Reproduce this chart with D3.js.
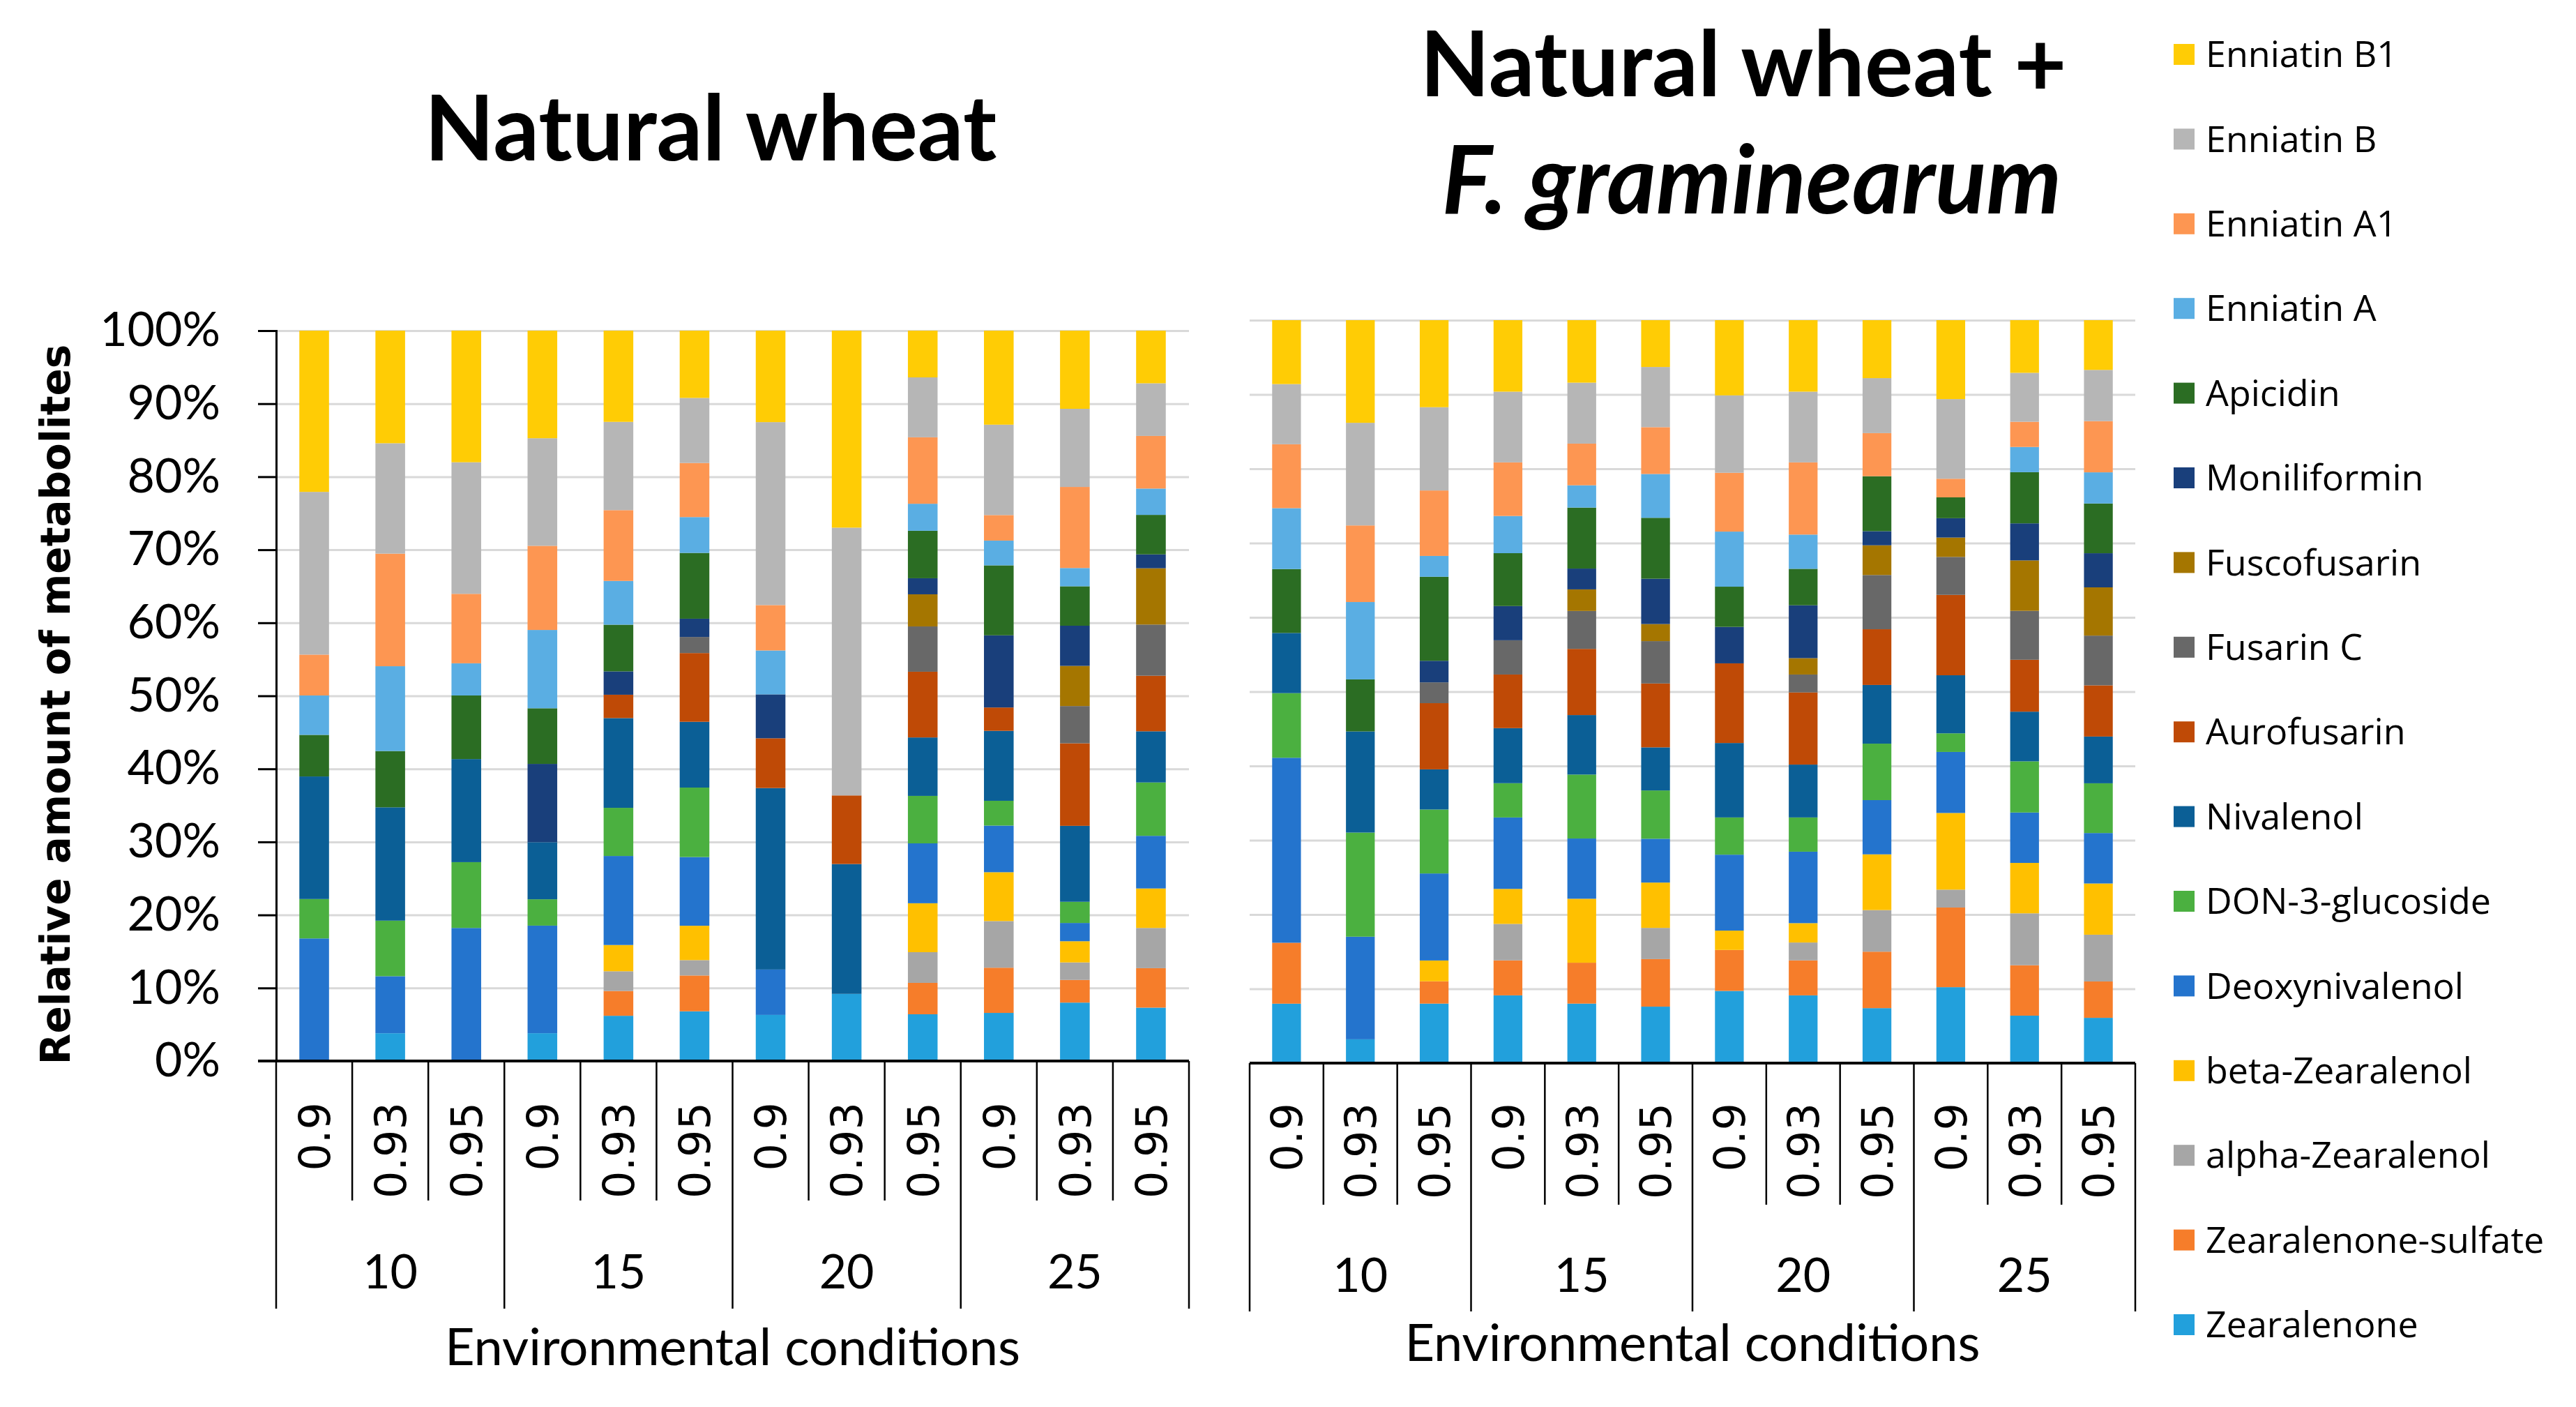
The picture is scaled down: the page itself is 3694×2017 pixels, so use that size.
<!DOCTYPE html>
<html>
<head>
<meta charset="utf-8">
<script src="https://cdn.jsdelivr.net/npm/d3@7"></script>
<style>
  body { margin: 0; background: #fff; }
  svg { display: block; }
</style>
</head>
<body>
<script>
// categories
var temperatures = ["10", "15", "20", "25"];
var waterActivity = ["0.9", "0.93", "0.95"];

// stacked bottom -> top
var metabolites = ["Zearalenone", "Zearalenone-sulfate", "alpha-Zearalenol", "beta-Zearalenol",
  "Deoxynivalenol", "DON-3-glucoside", "Nivalenol", "Aurofusarin", "Fusarin C", "Fuscofusarin",
  "Moniliformin", "Apicidin", "Enniatin A", "Enniatin A1", "Enniatin B", "Enniatin B1"];

var metaboliteColors = ["#22a0dc", "#f67d2a", "#a6a6a6", "#ffc000",
  "#2474cd", "#4bb040", "#0b5f96", "#bf4a06", "#686868", "#a57600",
  "#193f7b", "#2b6d23", "#5aaee3", "#fd9652", "#b6b6b6", "#ffcc05"];

// Natural wheat: one row per metabolite, one column per condition (10/0.9 ... 25/0.95)
var naturalWheat = [
  [0, 3.8, 0, 3.8, 6.2, 6.8, 6.3, 9.2, 6.4, 6.6, 8.0, 7.3],        // Zearalenone
  [0, 0, 0, 0, 3.4, 4.9, 0, 0, 4.3, 6.2, 3.1, 5.4],                // Zearalenone-sulfate
  [0, 0, 0, 0, 2.7, 2.1, 0, 0, 4.2, 6.4, 2.4, 5.5],                // alpha-Zearalenol
  [0, 0, 0, 0, 3.6, 4.7, 0, 0, 6.7, 6.7, 2.9, 5.4],                // beta-Zearalenol
  [16.8, 7.8, 18.2, 14.7, 12.2, 9.4, 6.2, 0, 8.2, 6.4, 2.5, 7.2],  // Deoxynivalenol
  [5.4, 7.6, 9.0, 3.6, 6.6, 9.5, 0, 0, 6.5, 3.4, 2.9, 7.3],        // DON-3-glucoside
  [16.8, 15.5, 14.1, 7.8, 12.3, 9.0, 24.8, 17.8, 8.0, 9.6, 10.4, 7.0], // Nivalenol
  [0, 0, 0, 0, 3.2, 9.4, 6.8, 9.4, 9.0, 3.2, 11.3, 7.6],           // Aurofusarin
  [0, 0, 0, 0, 0, 2.2, 0, 0, 6.2, 0, 5.1, 7.0],                    // Fusarin C
  [0, 0, 0, 0, 0, 0, 0, 0, 4.4, 0, 5.5, 7.7],                      // Fuscofusarin
  [0, 0, 0, 10.7, 3.2, 2.5, 6.0, 0, 2.2, 9.9, 5.5, 1.9],           // Moniliformin
  [5.7, 7.7, 8.7, 7.6, 6.4, 9.0, 0, 0, 6.5, 9.6, 5.4, 5.4],        // Apicidin
  [5.4, 11.6, 4.4, 10.7, 6.0, 4.9, 6.0, 0, 3.7, 3.4, 2.5, 3.6],    // Enniatin A
  [5.6, 15.4, 9.5, 11.5, 9.7, 7.4, 6.2, 0, 9.1, 3.5, 11.1, 7.2],   // Enniatin A1
  [22.3, 15.1, 18.0, 14.7, 12.1, 8.9, 25.0, 36.7, 8.2, 12.4, 10.7, 7.2], // Enniatin B
  [22.1, 15.4, 18.0, 14.7, 12.5, 9.2, 12.5, 27.0, 6.4, 12.9, 10.7, 7.2]  // Enniatin B1
];

// Natural wheat + F. graminearum
var inoculatedWheat = [
  [8.0, 3.2, 8.0, 9.1, 8.0, 7.6, 9.7, 9.1, 7.4, 10.2, 6.4, 6.1],   // Zearalenone
  [8.2, 0, 3.0, 4.7, 5.5, 6.4, 5.5, 4.7, 7.6, 10.7, 6.8, 4.9],     // Zearalenone-sulfate
  [0, 0, 0, 4.9, 0, 4.2, 0, 2.4, 5.6, 2.4, 7.0, 6.3],              // alpha-Zearalenol
  [0, 0, 2.8, 4.7, 8.6, 6.1, 2.6, 2.6, 7.5, 10.3, 6.8, 6.9],       // beta-Zearalenol
  [24.9, 13.8, 11.7, 9.6, 8.1, 5.9, 10.2, 9.6, 7.3, 8.2, 6.8, 6.8], // Deoxynivalenol
  [8.7, 14.0, 8.6, 4.6, 8.6, 6.5, 5.0, 4.6, 7.6, 2.5, 6.9, 6.7],   // DON-3-glucoside
  [8.1, 13.6, 5.4, 7.4, 8.0, 5.8, 10.0, 7.1, 7.9, 7.8, 6.7, 6.3],  // Nivalenol
  [0, 0, 8.9, 7.2, 8.9, 8.6, 10.7, 9.7, 7.5, 10.8, 7.0, 6.9],      // Aurofusarin
  [0, 0, 2.8, 4.6, 5.1, 5.7, 0, 2.4, 7.3, 5.1, 6.6, 6.7],          // Fusarin C
  [0, 0, 0, 0, 2.9, 2.3, 0, 2.2, 4.0, 2.6, 6.8, 6.5],              // Fuscofusarin
  [0, 0, 2.9, 4.6, 2.8, 6.1, 4.9, 7.1, 1.9, 2.6, 5.0, 4.6],        // Moniliformin
  [8.6, 7.0, 11.3, 7.1, 8.2, 8.2, 5.4, 4.9, 7.4, 2.8, 6.9, 6.7],   // Apicidin
  [8.2, 10.4, 2.8, 5.0, 3.0, 5.9, 7.4, 4.6, 0, 0, 3.4, 4.2],       // Enniatin A
  [8.6, 10.3, 8.8, 7.2, 5.6, 6.3, 7.9, 9.7, 5.8, 2.5, 3.4, 6.9],   // Enniatin A1
  [8.1, 13.8, 11.2, 9.5, 8.2, 8.1, 10.4, 9.5, 7.4, 10.7, 6.6, 6.9], // Enniatin B
  [8.6, 13.8, 11.7, 9.6, 8.4, 6.3, 10.1, 9.6, 7.8, 10.6, 7.1, 6.7]  // Enniatin B1
];

var W = 3694, H = 2017;

var svg = d3.select("body").append("svg")
  .attr("width", W)
  .attr("height", H);

var categories = [];
temperatures.forEach(function(t) {
  waterActivity.forEach(function(a) { categories.push(t + "|" + a); });
});

var color = d3.scaleOrdinal().domain(metabolites).range(metaboliteColors);

// turn a metabolite x condition matrix into rows d3.stack can use
function tableFor(matrix) {
  return categories.map(function(c, j) {
    var row = { cat: c };
    metabolites.forEach(function(m, i) { row[m] = matrix[i][j]; });
    return row;
  });
}

function panel(matrix, p) {
  var x = d3.scaleBand()
    .domain(categories)
    .range([p.x0, p.x1])
    .paddingInner(0.61)
    .paddingOuter(0.305);
  var y = d3.scaleLinear().domain([0, 1]).range([p.y1, p.y0]);

  var g = svg.append("g");

  // gridlines
  g.append("g")
    .attr("transform", "translate(" + p.x0 + ",0)")
    .call(d3.axisLeft(y).ticks(10).tickSize(-(p.x1 - p.x0)).tickFormat(""))
    .call(function(s) { s.select(".domain").remove(); })
    .selectAll("line")
      .attr("stroke", "#d9d9d9")
      .attr("stroke-width", 3);

  // stacked bars, normalised to 100%
  var series = d3.stack().keys(metabolites).offset(d3.stackOffsetExpand)(tableFor(matrix));

  g.selectAll("g.layer")
    .data(series)
    .join("g")
      .attr("class", "layer")
      .attr("fill", function(d) { return color(d.key); })
    .selectAll("rect")
    .data(function(d) { return d; })
    .join("rect")
      .attr("x", function(d) { return x(d.data.cat); })
      .attr("width", x.bandwidth())
      .attr("y", function(d) { return y(d[1]); })
      .attr("height", function(d) { return y(d[0]) - y(d[1]); });

  // y axis only on the left panel
  if (p.axis) {
    var ya = g.append("g")
      .attr("transform", "translate(" + p.x0 + ",0)")
      .call(d3.axisLeft(y).ticks(10, "%").tickSize(26).tickPadding(54));
    ya.selectAll("path, line").attr("stroke", "#000").attr("stroke-width", 3);
    ya.selectAll("text")
      .attr("font-family", "Lato, sans-serif")
      .attr("font-size", 68)
      .attr("fill", "#000");
  }

  // x axis line
  g.append("line")
    .attr("x1", p.x0 - (p.axis ? 26 : 0)).attr("x2", p.x1)
    .attr("y1", p.y1).attr("y2", p.y1)
    .attr("stroke", "#000").attr("stroke-width", 4);

  // category separators (short inside a group, long between groups)
  var step = x.step();
  d3.range(categories.length + 1).forEach(function(i) {
    g.append("line")
      .attr("x1", p.x0 + i * step).attr("x2", p.x0 + i * step)
      .attr("y1", p.y1).attr("y2", i % 3 === 0 ? p.sepLong : p.sepShort)
      .attr("stroke", "#000").attr("stroke-width", 2.5);
  });

  // water activity labels
  g.selectAll("text.aw")
    .data(categories)
    .join("text")
      .attr("class", "aw")
      .attr("transform", function(c) {
        return "translate(" + (x(c) + x.bandwidth() / 2) + "," + p.subY + ") rotate(-90)";
      })
      .attr("text-anchor", "end")
      .attr("dy", "0.36em")
      .attr("font-family", "'DejaVu Sans', sans-serif")
      .attr("font-size", 62)
      .text(function(c) { return c.split("|")[1]; });

  // temperature labels
  g.selectAll("text.temp")
    .data(temperatures)
    .join("text")
      .attr("class", "temp")
      .attr("x", function(t) { return x(t + "|0.93") + x.bandwidth() / 2; })
      .attr("y", p.groupY)
      .attr("text-anchor", "middle")
      .attr("font-family", "Lato, sans-serif")
      .attr("font-size", 68)
      .text(function(t) { return t; });

  g.append("text")
    .attr("x", (p.x0 + p.x1) / 2)
    .attr("y", p.titleY)
    .attr("text-anchor", "middle")
    .attr("font-family", "Lato, sans-serif")
    .attr("font-size", 74)
    .text("Environmental conditions");
}

panel(naturalWheat, {
  x0: 396, x1: 1705, y0: 474, y1: 1521, axis: true,
  sepShort: 1721, sepLong: 1876, subY: 1580, groupY: 1847, titleY: 1957
});

panel(inoculatedWheat, {
  x0: 1792, x1: 3062, y0: 459, y1: 1524, axis: false,
  sepShort: 1727, sepLong: 1880, subY: 1581, groupY: 1852, titleY: 1951
});

// y axis title
svg.append("text")
  .attr("transform", "translate(80,1010) rotate(-90)")
  .attr("text-anchor", "middle")
  .attr("dy", "0.35em")
  .attr("font-family", "'DejaVu Sans', sans-serif")
  .attr("font-weight", "bold")
  .attr("font-size", 58)
  .text("Relative amount of metabolites");

// panel titles
svg.append("text")
  .attr("x", 1019).attr("y", 230)
  .attr("text-anchor", "middle")
  .attr("font-family", "Lato, sans-serif")
  .attr("font-weight", "bold")
  .attr("font-size", 130)
  .text("Natural wheat");

svg.append("text")
  .attr("x", 2500).attr("y", 138)
  .attr("text-anchor", "middle")
  .attr("font-family", "Lato, sans-serif")
  .attr("font-weight", "bold")
  .attr("font-size", 130)
  .text("Natural wheat +");

svg.append("text")
  .attr("x", 2512).attr("y", 306)
  .attr("text-anchor", "middle")
  .attr("font-family", "Lato, sans-serif")
  .attr("font-weight", "bold")
  .attr("font-style", "italic")
  .attr("font-size", 136)
  .text("F. graminearum");

// legend, top entry = top of the stack
var legend = svg.append("g")
  .selectAll("g")
  .data(metabolites.slice().reverse())
  .join("g")
    .attr("transform", function(d, i) { return "translate(3117," + (78 + i * 121.4) + ")"; });

legend.append("rect")
  .attr("x", 0).attr("y", -15)
  .attr("width", 30).attr("height", 30)
  .attr("fill", function(d) { return color(d); });

legend.append("text")
  .attr("x", 46)
  .attr("dy", "0.35em")
  .attr("font-family", "'Open Sans', sans-serif")
  .attr("font-size", 52)
  .text(function(d) { return d; });
</script>
</body>
</html>
